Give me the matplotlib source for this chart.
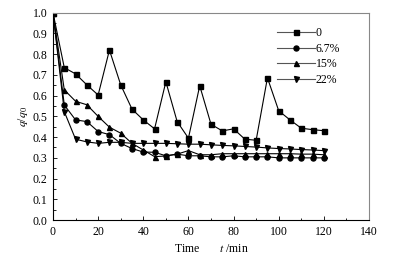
import matplotlib
matplotlib.use("Agg")
import matplotlib.pyplot as plt
from matplotlib.ticker import MultipleLocator

plt.rcParams['font.family'] = ['Liberation Serif', 'DejaVu Serif']
plt.rcParams['mathtext.fontset'] = 'stix'

t = [0, 5, 10, 15, 20, 25, 30, 35, 40, 45, 50, 55, 60, 65, 70, 75, 80, 85, 90, 95, 100, 105, 110, 115, 120]
s0 = [1.0, 0.735, 0.705, 0.652, 0.603, 0.82, 0.652, 0.535, 0.483, 0.44, 0.667, 0.475, 0.395, 0.648, 0.462,
      0.43, 0.44, 0.39, 0.385, 0.686, 0.527, 0.483, 0.443, 0.436, 0.431]
s67 = [1.0, 0.555, 0.483, 0.475, 0.427, 0.412, 0.37, 0.345, 0.328, 0.327, 0.31, 0.318, 0.31, 0.31, 0.305,
       0.305, 0.31, 0.305, 0.305, 0.305, 0.30, 0.30, 0.30, 0.30, 0.30]
s15 = [1.0, 0.628, 0.573, 0.556, 0.5, 0.448, 0.419, 0.37, 0.338, 0.306, 0.309, 0.318, 0.335, 0.315, 0.315,
       0.32, 0.32, 0.32, 0.32, 0.32, 0.32, 0.32, 0.318, 0.318, 0.315]
s22 = [1.0, 0.523, 0.39, 0.377, 0.37, 0.375, 0.375, 0.37, 0.37, 0.37, 0.37, 0.368, 0.366, 0.366, 0.363,
       0.36, 0.358, 0.355, 0.352, 0.348, 0.345, 0.343, 0.34, 0.338, 0.335]
labels = ['0', '6.7%', '15%', '22%']
markers = ['s', 'o', '^', 'v']

fig = plt.figure(figsize=(3.97, 2.62), dpi=100)
ax = fig.add_axes([0.1335, 0.160, 0.796, 0.7915])

for s, lab, m in zip([s0, s67, s15, s22], labels, markers):
    ax.plot(t, s, color='black', lw=0.8, marker=m, markersize=3.6, label=lab)

ax.set_xlim(0, 140)
ax.set_ylim(0, 1.0)
ax.xaxis.set_major_locator(MultipleLocator(20))
ax.xaxis.set_minor_locator(MultipleLocator(10))
ax.yaxis.set_major_locator(MultipleLocator(0.1))
ax.yaxis.set_minor_locator(MultipleLocator(0.05))
ax.set_yticks([i / 10 for i in range(11)])
ax.set_yticklabels(['%.1f' % (i / 10) for i in range(11)])
ax.tick_params(which='both', direction='in', top=False, right=False, labelsize=8.5, pad=4)
ax.tick_params(which='major', length=3, width=0.6)
ax.tick_params(which='minor', length=1.8, width=0.6)
for sp in ['top', 'right']:
    ax.spines[sp].set_color('#888888')
    ax.spines[sp].set_linewidth(0.8)
for sp in ['left', 'bottom']:
    ax.spines[sp].set_linewidth(0.8)

ax.set_xlabel(r'Time       $t$ /min', fontsize=8.5, labelpad=4)
ax.set_ylabel(r'$q$/$q_0$', fontsize=8.5, labelpad=2)

leg = ax.legend(loc='upper right', bbox_to_anchor=(0.935, 0.97), frameon=False, fontsize=8.5,
                handlelength=3.2, handletextpad=0.1, labelspacing=0.3, borderpad=0.2)
for h in leg.get_lines():
    h.set_color('#555555')
    h.set_markerfacecolor('black')
    h.set_markeredgecolor('black')

fig.savefig('out.png', dpi=100)
